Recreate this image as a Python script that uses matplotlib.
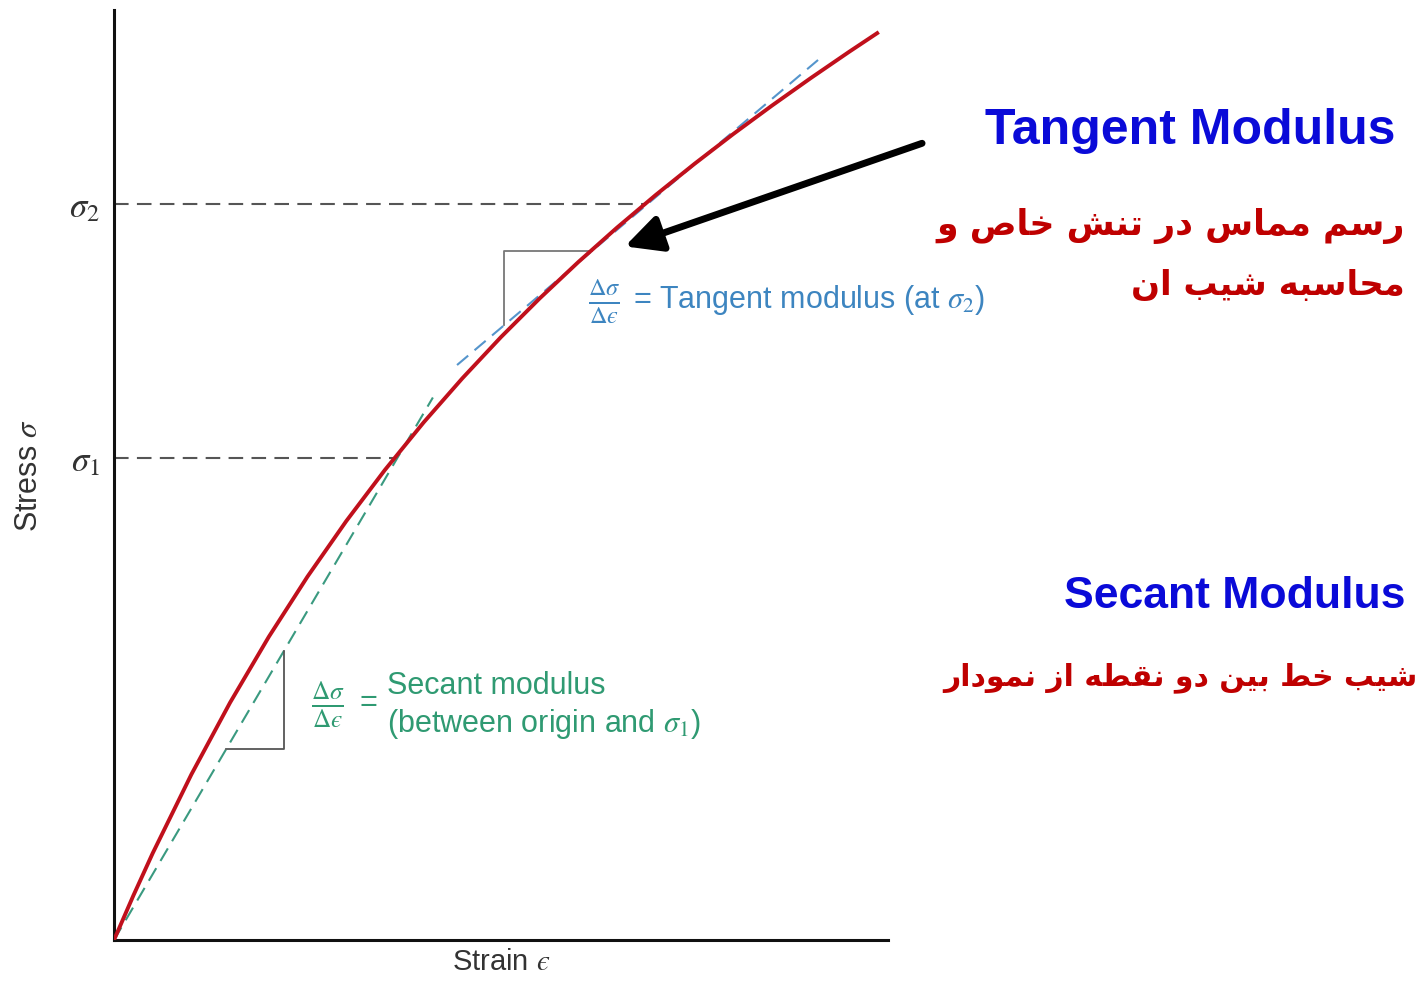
import matplotlib
matplotlib.use("Agg")
import matplotlib.pyplot as plt

plt.rcParams["mathtext.fontset"] = "stix"
plt.rcParams["font.family"] = ["Liberation Sans", "DejaVu Sans"]

# stress-strain curve (arbitrary units)
strain = [0.0, 0.25, 0.5, 1.0, 1.5, 2.0, 2.5, 3.0, 3.5, 4.0, 4.5, 5.0,
          5.5, 6.0, 6.5, 7.0, 7.5, 8.0, 8.5, 9.0, 9.5, 9.86]
stress = [0.0, 0.573, 1.120, 2.137, 3.064, 3.912, 4.689, 5.404, 6.065,
          6.678, 7.247, 7.780, 8.279, 8.749, 9.193, 9.614, 10.015, 10.399,
          10.766, 11.120, 11.462, 11.701]

sigma1, sigma2 = 6.22, 9.50
sigma1_strain, sigma2_strain = 3.64, 6.88
tick_labels = [r"$\sigma_1$", r"$\sigma_2$"]

# secant (origin -> sigma1) and tangent (at sigma2) construction lines
secant_x = [0.0, 4.12]
secant_y = [0.0, 7.00]
tangent_x = [4.432, 9.096]
tangent_y = [7.419, 11.355]

# slope triangles
tan_tri_x = [6.176, 5.039, 5.039]
tan_tri_y = [8.890, 8.890, 7.935]
sec_tri_x = [1.451, 2.196, 2.196]
sec_tri_y = [2.465, 2.465, 3.730]

# Persian captions (logical order, shaped below)
fa_tangent_1 = "رسم مماس در تنش خاص و"
fa_tangent_2 = "محاسبه شیب ان"
fa_secant = "شیب خط بین دو نقطه از نمودار"

FORMS = {  # isolated, final, initial, medial
    "ا": ("\uFE8D", "\uFE8E", None, None),
    "ب": ("\uFE8F", "\uFE90", "\uFE91", "\uFE92"),
    "ت": ("\uFE95", "\uFE96", "\uFE97", "\uFE98"),
    "ح": ("\uFEA1", "\uFEA2", "\uFEA3", "\uFEA4"),
    "خ": ("\uFEA5", "\uFEA6", "\uFEA7", "\uFEA8"),
    "د": ("\uFEA9", "\uFEAA", None, None),
    "ر": ("\uFEAD", "\uFEAE", None, None),
    "ز": ("\uFEAF", "\uFEB0", None, None),
    "س": ("\uFEB1", "\uFEB2", "\uFEB3", "\uFEB4"),
    "ش": ("\uFEB5", "\uFEB6", "\uFEB7", "\uFEB8"),
    "ص": ("\uFEB9", "\uFEBA", "\uFEBB", "\uFEBC"),
    "ط": ("\uFEC1", "\uFEC2", "\uFEC3", "\uFEC4"),
    "ق": ("\uFED5", "\uFED6", "\uFED7", "\uFED8"),
    "م": ("\uFEE1", "\uFEE2", "\uFEE3", "\uFEE4"),
    "ن": ("\uFEE5", "\uFEE6", "\uFEE7", "\uFEE8"),
    "ه": ("\uFEE9", "\uFEEA", "\uFEEB", "\uFEEC"),
    "و": ("\uFEED", "\uFEEE", None, None),
    "ی": ("\uFBFC", "\uFBFD", "\uFEF3", "\uFEF4"),
}


def shape_fa(text):
    # minimal Arabic-script shaping + right-to-left ordering
    out = []
    for i, ch in enumerate(text):
        forms = FORMS.get(ch)
        if forms is None:
            out.append(ch)
            continue
        prev = text[i - 1] if i > 0 else ""
        nxt = text[i + 1] if i + 1 < len(text) else ""
        join_prev = prev in FORMS and FORMS[prev][2] is not None
        join_next = forms[2] is not None and nxt in FORMS
        if join_prev and join_next:
            out.append(forms[3])
        elif join_prev:
            out.append(forms[1])
        elif join_next:
            out.append(forms[2])
        else:
            out.append(forms[0])
    return "".join(reversed(out))


fig = plt.figure(figsize=(14.24, 9.81), dpi=100)
ax = fig.add_axes([114 / 1424, 41 / 981, 774 / 1424, 930 / 981])
ax.set_xlim(0, 10)
ax.set_ylim(0, 12)

ax.spines["top"].set_visible(False)
ax.spines["right"].set_visible(False)
for side in ("left", "bottom"):
    ax.spines[side].set_linewidth(2.2)
    ax.spines[side].set_color("#111111")

ax.set_xticks([])
ax.set_yticks([sigma1, sigma2])
ax.set_yticklabels(tick_labels, fontsize=25, color="#333333")
ax.tick_params(axis="y", length=0, pad=10)

ax.set_xlabel("Strain $\u03f5$", fontsize=21, color="#333333", labelpad=6)
ax.set_ylabel(r"Stress $\sigma$", fontsize=22, color="#333333",
              labelpad=18)

# reference dashed lines
ax.plot([0, sigma1_strain], [sigma1, sigma1], color="#555555", lw=1.5,
        dashes=(7, 4), zorder=2)
ax.plot([0, sigma2_strain], [sigma2, sigma2], color="#555555", lw=1.5,
        dashes=(7, 4), zorder=2)

ax.plot(secant_x, secant_y, color="#3a9a80", lw=1.5, dashes=(7, 4), zorder=2)
ax.plot(tangent_x, tangent_y, color="#5595cc", lw=1.5, dashes=(7, 4),
        zorder=2)

ax.plot(tan_tri_x, tan_tri_y, color="#777777", lw=1.3, zorder=2)
ax.plot(sec_tri_x, sec_tri_y, color="#555555", lw=1.3, zorder=2)

ax.plot(strain, stress, color="#c0101c", lw=2.8, zorder=3)

# annotations
blue = "#3d85c0"
green = "#2f9a72"
frac = "$\\frac{\\Delta\\sigma}{\\Delta\u03f5}$"
ax.text(6.331, 8.232, frac, fontsize=25, color=blue, ha="center",
        va="center")
ax.text(6.70, 8.258, r"= Tangent modulus (at $\sigma_2$)",
        fontsize=22, color=blue, ha="left", va="center")
ax.text(2.765, 3.032, frac, fontsize=26, color=green, ha="center",
        va="center")
ax.text(3.282, 3.06, "=", fontsize=22, color=green, ha="center",
        va="center")
ax.text(3.527, 3.019, "Secant modulus\n(between origin and $\\sigma_1$)",
        fontsize=22, color=green, ha="left", va="center", linespacing=1.25)

ax.annotate("", xy=(6.60, 8.95), xytext=(10.44, 10.28),
            annotation_clip=False,
            arrowprops=dict(arrowstyle="-|>,head_length=1.1,head_width=0.55",
                            lw=5, color="black", mutation_scale=20,
                            shrinkA=0, shrinkB=0))

# right-hand captions
fig.text(1395 / 1424, 1 - 131 / 981, "Tangent Modulus", fontsize=36,
         fontweight="bold", color="#0a0ad8", ha="right", va="center")
fig.text(1405 / 1424, 1 - 226 / 981, shape_fa(fa_tangent_1), fontsize=25,
         fontweight="bold", color="#bf0000", ha="right", va="center",
         family=["DejaVu Sans"])
fig.text(1405 / 1424, 1 - 286 / 981, shape_fa(fa_tangent_2), fontsize=24.5,
         fontweight="bold", color="#bf0000", ha="right", va="center",
         family=["DejaVu Sans"])
fig.text(1405 / 1424, 1 - 596 / 981, "Secant Modulus", fontsize=32,
         fontweight="bold", color="#0a0ad8", ha="right", va="center")
fig.text(1418 / 1424, 1 - 678 / 981, shape_fa(fa_secant), fontsize=21.5,
         fontweight="bold", color="#bf0000", ha="right", va="center",
         family=["DejaVu Sans"])

fig.savefig("out.png", dpi=100)
